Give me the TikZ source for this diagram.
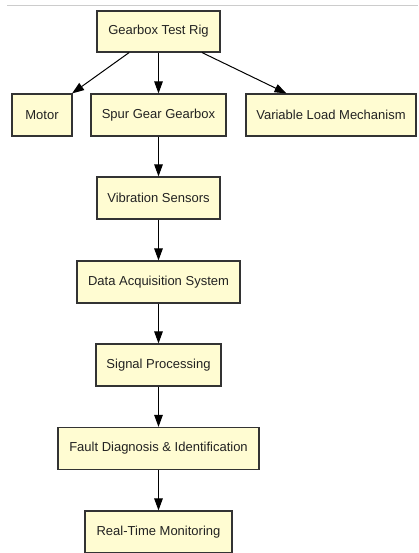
\documentclass[tikz,border=0pt]{standalone}
\usepackage{fontspec}
\setmainfont{Liberation Sans}
\usepackage{xcolor}
\usetikzlibrary{arrows.meta}
\definecolor{ink}{HTML}{222222}
\definecolor{edge}{HTML}{333333}
\definecolor{boxfill}{HTML}{FFFCD2}
\definecolor{rule}{HTML}{CCCCCC}

\begin{document}
\begin{tikzpicture}[x=1pt,y=1pt,font=\fontsize{13}{15}\selectfont,
  >={Triangle[length=12pt,width=8.5pt]},
  block/.style={draw=edge,line width=1.1pt,fill=boxfill,text=ink,minimum height=42pt,inner sep=0pt},
  link/.style={->,line width=1pt,black}]
\useasboundingbox (0,0) rectangle (418,-553);
% thin rule along the top
\draw[rule,line width=1pt] (7,-6) -- (418,-6);
% the rig and its three parts
\node[block,minimum width=123pt,minimum height=41pt] (rig) at (158.5,-31.5) {Gearbox Test Rig};
\node[block,minimum width=60pt] (motor) at (42,-115) {Motor};
\node[block,minimum width=135pt] (gearbox) at (158.5,-115) {Spur Gear Gearbox};
\node[block,minimum width=170pt] (load) at (331,-115) {Variable Load Mechanism};
% the measuring chain
\node[block,minimum width=123pt] (sensors) at (158.5,-198) {Vibration Sensors};
\node[block,minimum width=163pt] (daq) at (158.5,-282) {Data Acquisition System};
\node[block,minimum width=125pt] (sigproc) at (158.5,-365) {Signal Processing};
\node[block,minimum width=201pt] (fault) at (158.5,-448.5) {Fault Diagnosis \& Identification};
\node[block,minimum width=147pt] (monitor) at (158.5,-532) {Real-Time Monitoring};
% connectors
\foreach \b in {motor,gearbox,load} {\draw[link] (rig) -- (\b);}
\foreach \a/\b in {gearbox/sensors,sensors/daq,daq/sigproc,sigproc/fault,fault/monitor} {\draw[link] (\a) -- (\b);}
\end{tikzpicture}
\end{document}
